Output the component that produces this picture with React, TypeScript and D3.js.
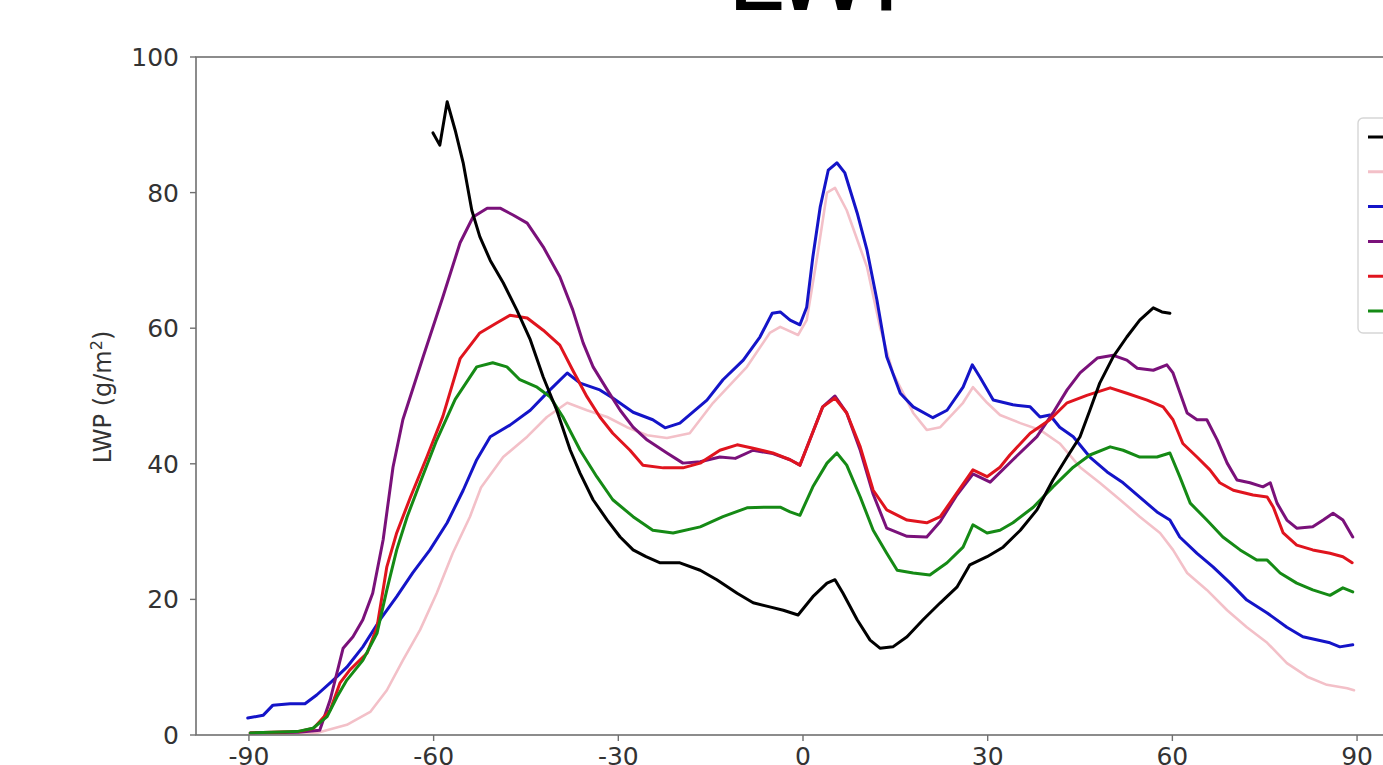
import React from "react";
import * as d3 from "d3";

const xTicks = [-90, -60, -30, 0, 30, 60, 90];
const yTicks = [0, 20, 40, 60, 80, 100];

const blackLat = [-60.1, -59.0, -57.8, -56.5, -55.2, -53.8, -52.5, -50.8, -48.7, -46.5, -44.3, -42.2, -40.0, -37.8, -36.2, -34.1, -31.8, -29.7, -27.6, -25.5, -23.2, -20.0, -16.7, -14.0, -10.7, -8.1, -5.4, -3.2, -0.8, 1.6, 3.9, 5.2, 6.5, 8.8, 10.9, 12.5, 14.6, 16.9, 19.5, 22.3, 25.0, 27.1, 29.9, 32.5, 35.3, 38.0, 40.6, 42.9, 45.0, 46.6, 48.2, 50.4, 52.6, 54.7, 56.9, 58.3, 59.6];
const blackLwp = [88.8, 87.0, 93.4, 89.2, 84.4, 77.4, 73.5, 70.0, 66.7, 62.7, 58.3, 52.8, 47.9, 42.0, 38.6, 34.7, 31.7, 29.2, 27.3, 26.3, 25.4, 25.4, 24.3, 22.9, 20.9, 19.5, 18.9, 18.4, 17.7, 20.4, 22.4, 22.9, 20.9, 17.0, 14.0, 12.8, 13.0, 14.5, 17.0, 19.5, 21.8, 25.1, 26.3, 27.7, 30.2, 33.2, 37.6, 41.0, 44.0, 47.9, 51.9, 55.8, 58.7, 61.2, 63.0, 62.4, 62.2];

const pinkLat = [-90, -82, -79.0, -74.1, -70.3, -67.6, -65.0, -62.2, -59.5, -56.9, -54.1, -52.3, -48.7, -44.8, -41.6, -38.3, -35.1, -31.8, -28.6, -25.3, -22.1, -18.4, -14.6, -9.1, -5.4, -3.7, -0.8, 0.6, 2.3, 3.9, 5.2, 7.1, 10.4, 12.5, 14.6, 17.9, 20.1, 22.3, 26.0, 27.6, 29.9, 32.0, 35.3, 38.5, 41.7, 45.0, 48.2, 51.5, 54.7, 58.0, 60.1, 62.4, 65.6, 68.9, 72.1, 75.4, 78.6, 81.9, 85.1, 88.4, 89.5];
const pinkLwp = [0, 0.1, 0.3, 1.5, 3.4, 6.6, 11.0, 15.5, 20.9, 26.8, 32.2, 36.5, 41.0, 44.0, 46.9, 49.0, 47.9, 46.9, 45.4, 44.2, 43.8, 44.5, 49.0, 54.3, 59.3, 60.2, 59.0, 61.2, 70.5, 80.0, 80.7, 77.4, 69.0, 60.2, 53.4, 47.5, 45.0, 45.4, 49.0, 51.3, 49.0, 47.2, 46.0, 45.0, 43.0, 39.5, 37.2, 34.7, 32.2, 29.8, 27.3, 23.9, 21.4, 18.4, 15.9, 13.6, 10.6, 8.6, 7.4, 6.9, 6.6];

const blueLat = [-90.2, -87.7, -86.1, -83.3, -80.9, -79.0, -76.8, -75.7, -74.1, -71.5, -68.7, -66.0, -63.4, -60.6, -57.8, -55.2, -53.0, -50.8, -47.6, -44.3, -41.1, -38.3, -36.2, -33.0, -30.9, -27.6, -24.4, -22.4, -20.0, -15.6, -13.0, -9.7, -7.0, -5.0, -3.7, -2.1, -0.5, 0.6, 1.6, 2.8, 4.1, 5.5, 6.8, 8.8, 10.4, 12.0, 13.6, 15.8, 17.9, 21.1, 23.4, 26.0, 27.5, 28.8, 30.9, 34.1, 36.9, 38.5, 40.1, 41.7, 43.9, 46.6, 49.4, 52.0, 54.7, 57.5, 59.6, 61.2, 64.0, 66.6, 69.4, 72.1, 75.4, 78.6, 81.2, 85.6, 87.2, 89.3];
const blueLwp = [2.5, 2.9, 4.4, 4.6, 4.6, 5.9, 7.7, 8.6, 10.0, 13.0, 17.0, 20.4, 23.9, 27.3, 31.3, 36.1, 40.6, 44.0, 45.7, 47.9, 50.9, 53.4, 51.9, 50.9, 49.7, 47.6, 46.5, 45.3, 46.0, 49.4, 52.4, 55.3, 58.7, 62.2, 62.4, 61.2, 60.5, 63.1, 70.5, 77.9, 83.3, 84.4, 82.9, 77.0, 71.5, 64.2, 55.8, 50.4, 48.4, 46.8, 47.9, 51.3, 54.6, 52.7, 49.4, 48.7, 48.4, 46.9, 47.2, 45.4, 44.0, 41.0, 38.8, 37.2, 35.1, 32.9, 31.7, 29.2, 26.8, 24.8, 22.4, 19.9, 18.0, 15.9, 14.5, 13.6, 13.0, 13.3];

const purpleLat = [-89.8, -82, -78.5, -76.8, -74.7, -73.1, -71.5, -69.9, -68.2, -66.6, -65.0, -61.7, -58.5, -55.7, -53.6, -51.3, -49.2, -47.1, -44.8, -42.2, -39.5, -37.4, -35.7, -34.1, -31.8, -29.7, -27.6, -25.3, -22.1, -19.5, -16.7, -13.5, -11.0, -8.1, -4.9, -2.1, -0.5, 1.1, 3.2, 5.2, 7.1, 9.3, 11.4, 13.6, 16.9, 20.1, 22.3, 25.0, 27.6, 30.4, 34.1, 38.0, 40.6, 42.9, 45.0, 47.8, 50.4, 52.6, 54.3, 56.9, 59.1, 60.1, 62.4, 64.0, 65.6, 67.3, 68.9, 70.5, 72.6, 74.7, 75.9, 77.0, 78.6, 80.2, 82.8, 84.5, 86.1, 87.7, 89.3];
const purpleLwp = [0.3, 0.4, 0.7, 5.2, 12.8, 14.5, 17.0, 20.9, 28.8, 39.5, 46.5, 55.8, 64.6, 72.6, 76.4, 77.7, 77.7, 76.7, 75.5, 72.0, 67.6, 62.7, 57.8, 54.3, 50.9, 47.9, 45.4, 43.5, 41.6, 40.1, 40.3, 41.0, 40.8, 42.0, 41.5, 40.6, 39.8, 43.5, 48.4, 50.0, 47.5, 42.0, 35.5, 30.5, 29.3, 29.2, 31.5, 35.4, 38.5, 37.3, 40.6, 44.0, 47.5, 50.9, 53.4, 55.6, 56.0, 55.3, 54.1, 53.8, 54.6, 53.4, 47.5, 46.5, 46.5, 43.5, 40.1, 37.6, 37.2, 36.6, 37.2, 34.2, 31.7, 30.5, 30.7, 31.7, 32.7, 31.7, 29.2];

const redLat = [-89.8, -82, -79.5, -76.8, -75.2, -73.6, -70.8, -69.2, -67.6, -66.0, -63.8, -61.1, -58.5, -55.7, -52.5, -49.7, -47.6, -44.8, -42.2, -39.5, -37.4, -35.1, -33.0, -30.9, -28.1, -26.0, -22.7, -19.5, -16.7, -13.5, -10.7, -8.1, -4.9, -2.1, -0.5, 1.1, 3.2, 5.2, 7.1, 9.3, 11.4, 13.6, 16.9, 20.1, 22.3, 25.0, 27.6, 29.9, 32.0, 33.6, 36.9, 40.1, 42.9, 46.1, 49.9, 52.6, 55.9, 58.5, 60.1, 61.7, 64.0, 66.1, 67.7, 69.9, 73.1, 75.4, 76.4, 78.0, 80.2, 82.8, 85.6, 87.7, 89.2];
const redLwp = [0.3, 0.5, 1.0, 3.7, 7.7, 9.6, 12.1, 15.9, 24.8, 29.8, 35.0, 41.0, 47.0, 55.5, 59.3, 60.8, 61.9, 61.5, 59.7, 57.5, 53.8, 49.9, 46.9, 44.5, 42.0, 39.8, 39.4, 39.4, 40.1, 42.0, 42.8, 42.3, 41.6, 40.6, 39.8, 43.5, 48.4, 49.7, 47.5, 42.5, 36.1, 33.2, 31.7, 31.3, 32.2, 35.7, 39.1, 38.1, 39.5, 41.3, 44.5, 46.5, 49.0, 50.1, 51.2, 50.4, 49.4, 48.4, 46.5, 43.0, 41.0, 39.1, 37.2, 36.1, 35.4, 35.1, 33.6, 29.8, 28.0, 27.3, 26.8, 26.3, 25.4];

const greenLat = [-89.8, -82.2, -79.6, -77.3, -75.7, -74.1, -71.5, -69.2, -67.6, -66.0, -64.3, -62.2, -59.5, -56.5, -53.0, -50.4, -48.1, -46.0, -43.2, -41.1, -39.0, -36.2, -33.5, -30.9, -27.6, -24.4, -21.1, -16.7, -13.0, -9.1, -5.8, -3.7, -2.1, -0.5, 1.6, 3.9, 5.5, 7.1, 9.3, 11.4, 13.6, 15.3, 17.9, 20.6, 23.4, 26.0, 27.6, 29.9, 32.0, 34.1, 37.4, 40.6, 43.9, 46.6, 49.9, 52.0, 54.7, 57.5, 59.6, 61.2, 62.9, 65.6, 68.2, 71.0, 73.7, 75.4, 77.5, 80.2, 82.8, 85.6, 87.7, 89.3];
const greenLwp = [0.3, 0.5, 1.0, 2.7, 5.6, 8.1, 11.0, 15.0, 21.4, 27.3, 32.2, 37.2, 43.5, 49.5, 54.3, 54.9, 54.3, 52.4, 51.3, 49.9, 46.9, 42.0, 38.1, 34.7, 32.2, 30.2, 29.8, 30.7, 32.2, 33.5, 33.6, 33.6, 32.9, 32.4, 36.6, 40.1, 41.6, 39.8, 35.1, 30.2, 26.8, 24.3, 23.9, 23.6, 25.4, 27.7, 31.0, 29.8, 30.2, 31.3, 33.6, 36.6, 39.5, 41.3, 42.5, 42.0, 41.0, 41.0, 41.6, 38.1, 34.2, 31.7, 29.2, 27.3, 25.8, 25.8, 23.9, 22.4, 21.4, 20.6, 21.7, 21.1];

const seriesNames = ["black", "pink", "blue", "purple", "red", "green"];
const seriesColors = ["#000000", "#f3c0c8", "#1414c8", "#7a117a", "#e0141e", "#158a15"];
const seriesLat = [blackLat, pinkLat, blueLat, purpleLat, redLat, greenLat];
const seriesLwp = [blackLwp, pinkLwp, blueLwp, purpleLwp, redLwp, greenLwp];
// drawing order (bottom to top)
const drawOrder = [1, 2, 3, 4, 5, 0];

const W = 1383;
const H = 765;
const left = 196;
const right = 1410;
const top = 57;
const bottom = 735;

export default function App() {
  const x = d3.scaleLinear().domain([-98.6, 98.6]).range([left, right]);
  const y = d3.scaleLinear().domain([0, 100]).range([bottom, top]);
  const line = d3
    .line<[number, number]>()
    .x((d) => x(d[0]))
    .y((d) => y(d[1]));
  const font = "DejaVu Sans, sans-serif";
  const legendY0 = 137;
  const legendStep = 34.8;
  const tickFont = 25;

  return (
    <svg
      width={W}
      height={H}
      style={{ position: "absolute", left: 0, top: 0, background: "#fff" }}
      fontFamily={font}
    >
      <rect x={0} y={0} width={W} height={H} fill="#fff" />
      <text x={829} y={10} textAnchor="middle" fontSize={100} fill="#000">
        LWP
      </text>
      <defs>
        <clipPath id="plotClip">
          <rect x={left} y={top} width={right - left} height={bottom - top} />
        </clipPath>
      </defs>
      <g clipPath="url(#plotClip)">
        {drawOrder.map((i) => {
          const pts = seriesLat[i].map((la, k) => [la, seriesLwp[i][k]] as [number, number]);
          return (
            <path
              key={seriesNames[i]}
              d={line(pts) || ""}
              fill="none"
              stroke={seriesColors[i]}
              strokeWidth={i === 1 ? 2.6 : 3}
              strokeLinejoin="round"
              strokeLinecap="round"
            />
          );
        })}
      </g>
      {/* spines */}
      <rect
        x={left}
        y={top}
        width={right - left}
        height={bottom - top}
        fill="none"
        stroke="#707070"
        strokeWidth={1.6}
      />
      {/* y ticks */}
      {yTicks.map((t) => (
        <g key={"y" + t}>
          <line x1={left - 6} x2={left} y1={y(t)} y2={y(t)} stroke="#707070" strokeWidth={1.4} />
          <text
            x={left - 17}
            y={y(t)}
            dy="0.36em"
            textAnchor="end"
            fontSize={tickFont}
            fill="#333"
          >
            {t}
          </text>
        </g>
      ))}
      {/* x ticks */}
      {xTicks.map((t) => (
        <g key={"x" + t}>
          <line x1={x(t)} x2={x(t)} y1={bottom} y2={bottom + 6} stroke="#707070" strokeWidth={1.4} />
          <text x={x(t)} y={765} textAnchor="middle" fontSize={tickFont} fill="#333">
            {t < 0 ? "-" + Math.abs(t) : String(t)}
          </text>
        </g>
      ))}
      <text x={803} y={805} textAnchor="middle" fontSize={tickFont} fill="#333">
        Latitude
      </text>
      <text
        transform={`translate(${111},${397}) rotate(-90)`}
        textAnchor="middle"
        fontSize={24}
        fill="#333"
      >
        LWP (g/m
        <tspan dy={-9} fontSize={16}>
          2
        </tspan>
        <tspan dy={9}>)</tspan>
      </text>
      {/* legend */}
      <rect
        x={1358}
        y={118}
        width={120}
        height={215}
        rx={5}
        fill="#fff"
        fillOpacity={0.8}
        stroke="#d6d6d6"
        strokeWidth={1.4}
      />
      {seriesNames.map((n, i) => (
        <line
          key={"lg" + n}
          x1={1368}
          x2={1408}
          y1={legendY0 + i * legendStep}
          y2={legendY0 + i * legendStep}
          stroke={seriesColors[i]}
          strokeWidth={3}
        />
      ))}
    </svg>
  );
}
